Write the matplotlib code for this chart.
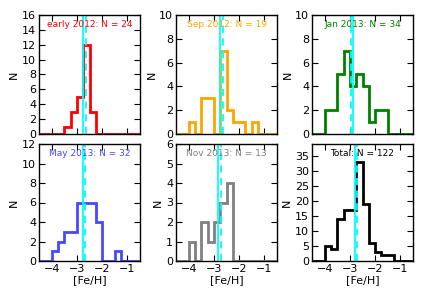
import numpy as np
import matplotlib
matplotlib.use("Agg")
import matplotlib.pyplot as plt

bin_edges = np.arange(-4.5, -0.5 + 0.001, 0.25)
bin_centers = (bin_edges[:-1] + bin_edges[1:]) / 2

labels = ["early 2012", "Sep 2012", "Jan 2013", "May 2013", "Nov 2013", "Total"]
colors = ["red", "orange", "green", "#4848ff", "gray", "black"]
counts_early2012 = [0, 0, 0, 0, 1, 3, 5, 12, 3, 0, 0, 0, 0, 0, 0, 0]
counts_sep2012 = [0, 0, 1, 0, 3, 3, 0, 7, 2, 1, 1, 0, 1, 0, 0, 0]
counts_jan2013 = [0, 0, 2, 2, 5, 7, 4, 5, 4, 1, 2, 2, 0, 0, 0, 0]
counts_may2013 = [0, 0, 1, 2, 3, 3, 6, 6, 6, 4, 0, 0, 1, 0, 0, 0]
counts_nov2013 = [0, 0, 1, 0, 2, 1, 2, 3, 4, 0, 0, 0, 0, 0, 0, 0]
counts_total = list(np.sum([counts_early2012, counts_sep2012, counts_jan2013,
                            counts_may2013, counts_nov2013], axis=0))
all_counts = [counts_early2012, counts_sep2012, counts_jan2013,
              counts_may2013, counts_nov2013, counts_total]
n_totals = [24, 19, 34, 32, 13, 122]
mean_solid = [-2.74, -2.74, -2.86, -2.77, -2.84, -2.78]
median_dashed = [-2.64, -2.62, -2.97, -2.69, -2.71, -2.73]
ylims = [16, 10, 10, 12, 6, 39]
yticks = [np.arange(0, 17, 2), np.arange(0, 11, 2), np.arange(0, 11, 2),
          np.arange(0, 13, 2), np.arange(0, 7, 1), np.arange(0, 36, 5)]
xticks = [-4, -3, -2, -1]

fig = plt.figure(figsize=(4.36, 2.91), dpi=100)
lefts = [39 / 436, 176 / 436, 312 / 436]
w = 101 / 436
rows = [(1 - 134 / 291, 119 / 291), (1 - 261 / 291, 117 / 291)]

for i in range(6):
    r, c = divmod(i, 3)
    ax = fig.add_axes([lefts[c], rows[r][0], w, rows[r][1]])
    ax.hist(bin_centers, bins=bin_edges, weights=all_counts[i], histtype="step",
            color=colors[i], lw=2)
    ax.axvline(mean_solid[i], color="cyan", lw=1.3)
    ax.axvline(median_dashed[i], color="cyan", lw=1.3, ls=(0, (4, 3)))
    ax.set_xlim(-4.5, -0.5)
    ax.set_ylim(0, ylims[i])
    ax.set_xticks(xticks)
    ax.set_yticks(yticks[i])
    ax.tick_params(direction="in", top=True, right=True, length=4, width=0.8,
                   labelsize=8, pad=2)
    for s in ax.spines.values():
        s.set_linewidth(1.0)
    ax.set_ylabel("N", fontsize=8, labelpad=2)
    if r == 0:
        ax.set_xticklabels([])
    else:
        ax.set_xticklabels(["\u22124", "\u22123", "\u22122", "\u22121"])
        ax.set_xlabel("[Fe/H]", fontsize=8, labelpad=1)
    ax.text(0.5, 0.92, f"{labels[i]}: N = {n_totals[i]}", transform=ax.transAxes,
            ha="center", va="center", fontsize=6.5, color=colors[i])

fig.savefig("out.png", dpi=100)
